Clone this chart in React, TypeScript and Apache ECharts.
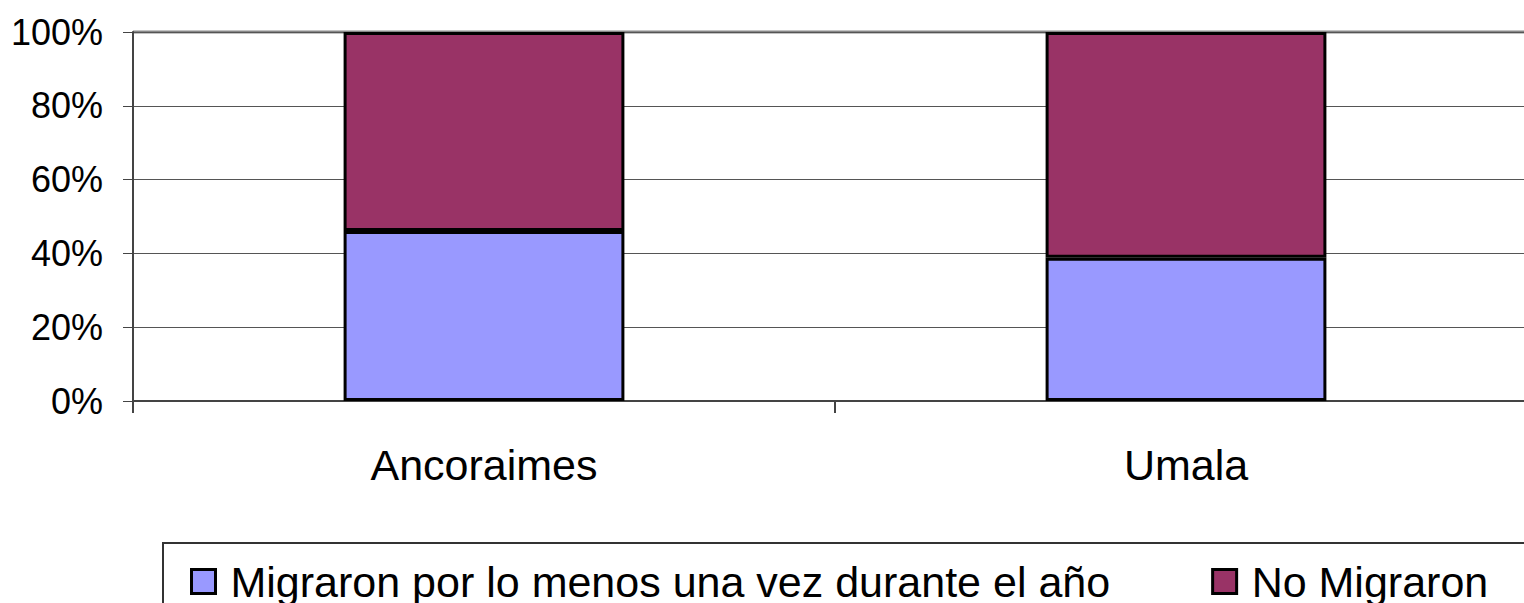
import React, { useEffect, useRef } from "react";
import * as echarts from "echarts";

const categories = ["Ancoraimes", "Umala"];
const seriesNames = ["Migraron por lo menos una vez durante el año", "No Migraron"];
const migraron = [0.461, 0.388];
const noMigraron = [0.539, 0.612];
const yTicks = [0, 0.2, 0.4, 0.6, 0.8, 1];

export default function App() {
  const ref = useRef<HTMLDivElement>(null);
  useEffect(() => {
    const chart = echarts.init(ref.current!, null, { renderer: "svg" });
    const font = "'Liberation Sans', Arial, sans-serif";
    chart.setOption({
      animation: false,
      backgroundColor: "#ffffff",
      grid: { left: 133, top: 32, right: 0, bottom: 202 },
      xAxis: {
        type: "category",
        data: categories,
        axisLine: { lineStyle: { color: "#444", width: 2 } },
        axisTick: { show: true, length: 12, lineStyle: { color: "#444", width: 2 } },
        axisLabel: { fontSize: 43, color: "#000", fontFamily: font, margin: 42 },
      },
      yAxis: {
        type: "value",
        min: 0,
        max: 1,
        interval: 0.2,
        axisLine: { show: true, lineStyle: { color: "#444", width: 2 } },
        axisTick: { show: true, length: 10, lineStyle: { color: "#444", width: 1 } },
        axisLabel: {
          fontSize: 36,
          color: "#000",
          fontFamily: font,
          margin: 30,
          formatter: (v: number) => (yTicks.includes(Math.round(v * 10) / 10) ? Math.round(v * 100) + "%" : ""),
        },
        splitLine: { show: true, lineStyle: { color: "#555", width: 1 } },
      },
      legend: {
        data: seriesNames,
        left: 190,
        top: 560,
        width: 1340,
        padding: 0,
        itemGap: 101,
        itemWidth: 24,
        itemHeight: 24,
        icon: "rect",
        itemStyle: { borderColor: "#000", borderWidth: 3 },
        textStyle: { fontSize: 43, color: "#000", fontFamily: font, padding: [0, 0, 0, 10] },
      },
      graphic: [
        {
          type: "rect",
          shape: { x: 163, y: 543, width: 1500, height: 120 },
          style: { fill: "none", stroke: "#333", lineWidth: 2 },
          z: -1,
        },
        {
          type: "line",
          shape: { x1: 133, y1: 32, x2: 1537, y2: 32 },
          style: { stroke: "#888", lineWidth: 3 },
        },
      ],
      series: [
        {
          name: seriesNames[0],
          type: "bar",
          stack: "total",
          data: migraron,
          barWidth: "40%",
          itemStyle: { color: "#9999FF", borderColor: "#000", borderWidth: 3 },
        },
        {
          name: seriesNames[1],
          type: "bar",
          stack: "total",
          data: noMigraron,
          barWidth: "40%",
          itemStyle: { color: "#993366", borderColor: "#000", borderWidth: 3 },
        },
      ],
    });
    return () => chart.dispose();
  }, []);
  return (
    <div
      style={{ position: "fixed", left: 0, top: 0, width: 1524, height: 603, overflow: "hidden", background: "#fff" }}
    >
      <div ref={ref} style={{ width: 1537, height: 603 }} />
    </div>
  );
}
